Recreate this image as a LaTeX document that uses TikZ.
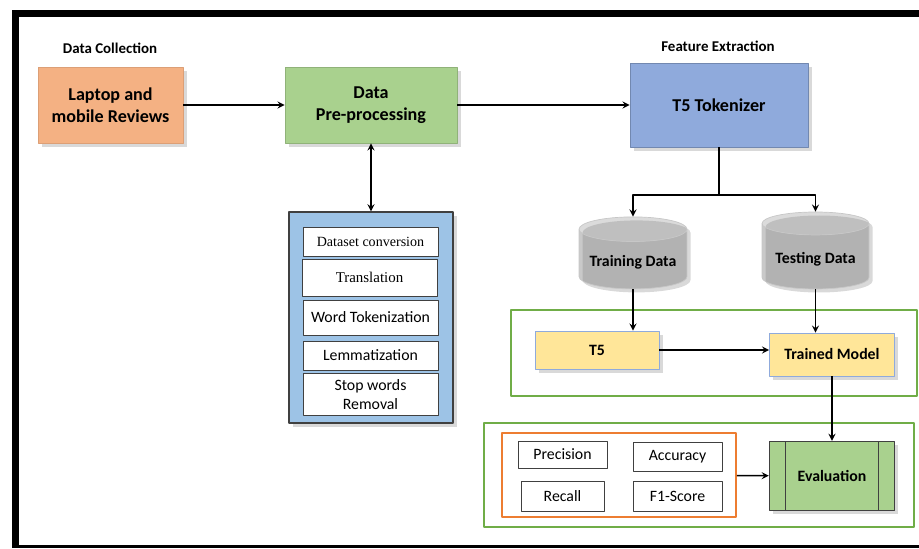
\documentclass[tikz,border=0pt]{standalone}
\usepackage{fontspec}
\setmainfont{Carlito}
\newfontfamily\timesfont{Liberation Serif}
\usetikzlibrary{shapes.geometric,shadows,arrows}
\definecolor{peach}{HTML}{F4B183}
\definecolor{leaf}{HTML}{A9D18E}
\definecolor{sky}{HTML}{8FAADC}
\definecolor{ice}{HTML}{9DC3E6}
\definecolor{butter}{HTML}{FFE699}
\definecolor{grass}{HTML}{70AD47}
\definecolor{tangerine}{HTML}{ED7D31}
\begin{document}
\begin{tikzpicture}[x=0.02cm,y=-0.02cm,>=stealth,thick,line join=round]
		\tikzset{shade box/.style={drop shadow={shadow xshift=2pt,shadow yshift=-2pt,opacity=.3}},
			stage/.style={draw,thin,shade box,align=center,font=\fontsize{10.3}{12.4}\selectfont\bfseries},
			header/.style={font=\fontsize{8.5}{10}\selectfont\bfseries},
			prepbox/.style={draw=black!75,fill=white,thin,minimum width=2.7cm,align=center,font=\fontsize{9}{11}\selectfont},
			metric/.style={draw=black!75,fill=white,thin,minimum width=1.78cm,font=\fontsize{9}{11}\selectfont},
			model/.style={draw=sky,fill=butter,thin,shade box,font=\fontsize{9}{11}\selectfont\bfseries},
			store/.style={cylinder,shape border rotate=90,aspect=0.25,draw=black!22,thin,cylinder uses custom fill,
				cylinder body fill=black!21,cylinder end fill=black!14,shade box,font=\fontsize{9}{11}\selectfont\bfseries},
			group/.style={draw=grass,line width=1.2pt}}
		\useasboundingbox (0,0) rectangle (919,548);
		% frame
		\fill (12,10) rectangle (919,17);
		\fill (12,10) rectangle (19,548);
		\fill (12,545) rectangle (919,548);
		\node[header] (hcol) at (110,48) {Data Collection};
		\node[header] (hfeat) at (718,46) {Feature Extraction};
		\node[stage,fill=peach,draw=peach!90!black,minimum width=2.9cm,minimum height=1.52cm] (rev) at (110.5,105) {Laptop and\\mobile Reviews};
		\node[stage,fill=leaf,draw=leaf!85!black,minimum width=3.44cm,minimum height=1.52cm] (prep) at (371,105) {Data\\Pre-processing};
		\node[stage,fill=sky,draw=sky!80!black,minimum width=3.56cm,minimum height=1.68cm] (tok) at (719,105) {T5 Tokenizer};
		% pre-processing steps
		\node[draw=black!75,fill=ice,shade box,minimum width=3.28cm,minimum height=4.22cm] (steps) at (371,317.5) {};
		\node[prepbox,minimum height=.58cm,font=\fontsize{8}{10}\selectfont\timesfont] (conv) at (370.5,241.5) {Dataset conversion};
		\node[prepbox,minimum height=.74cm,font=\fontsize{8.5}{10}\selectfont\timesfont] (trans) at (369.5,277.5) {Translation};
		\node[prepbox,minimum height=.7cm] (wtok) at (370.5,317.5) {Word Tokenization};
		\node[prepbox,minimum height=.58cm] (lem) at (370.5,355.5) {Lemmatization};
		\node[prepbox,minimum height=.74cm] (stop) at (370.5,394.5) {Stop words\\Removal};
		% data sets
		\node[store,minimum width=2.16cm,minimum height=1.44cm] (train) at (633,262) {Training Data};
		\node[store,minimum width=2.14cm,minimum height=1.54cm] (test) at (815.5,259) {Testing Data};
		\coordinate (split) at (719,195);
		% training
		\node[group,minimum width=8.12cm,minimum height=1.72cm] (fitbox) at (714,353) {};
		\node[model,minimum width=2.48cm,minimum height=.76cm] (t5) at (597,350) {T5};
		\node[model,minimum width=2.5cm,minimum height=.86cm] (trained) at (832,354.5) {Trained Model};
		% evaluation
		\node[group,minimum width=8.6cm,minimum height=2.08cm] (evbox) at (699,475) {};
		\node[draw=tangerine,line width=1pt,minimum width=4.68cm,minimum height=1.68cm] (metrics) at (619,475) {};
		\node[metric,minimum width=1.78cm,minimum height=.54cm] (prec) at (562.5,454.5) {Precision};
		\node[metric,minimum height=.58cm] (acc) at (677.5,456.5) {Accuracy};
		\node[metric,minimum width=1.66cm,minimum height=.6cm] (rec) at (562.5,496) {Recall};
		\node[metric,minimum height=.6cm] (fone) at (677.5,496) {F1-Score};
		\node[draw=black!75,fill=leaf,shade box,minimum width=2.5cm,minimum height=1.38cm,font=\fontsize{9}{11}\selectfont\bfseries,
			path picture={\draw[black!75] ([xshift=.32cm]path picture bounding box.north west)--([xshift=.32cm]path picture bounding box.south west);
				\draw[black!75] ([xshift=-.32cm]path picture bounding box.north east)--([xshift=-.32cm]path picture bounding box.south east);}] (eval) at (832,476) {Evaluation};
		% connectors
		\draw[->] (rev) -- (prep);
		\draw[->] (prep) -- (tok);
		\draw[<->] (prep) -- (steps);
		\draw (tok.south) -- (split);
		\draw[->] (split) -| (train.north);
		\draw[->] (split) -| (test.north);
		\draw[->] (train.south) -- (train.south |- t5.north);
		\draw[->] (test.south) -- (test.south |- trained.north);
		\draw[->] (t5.east) -- (t5.east -| trained.west);
		\draw[->] (trained) -- (eval);
		\draw[->] (metrics) -- (eval);
\end{tikzpicture}
\end{document}
